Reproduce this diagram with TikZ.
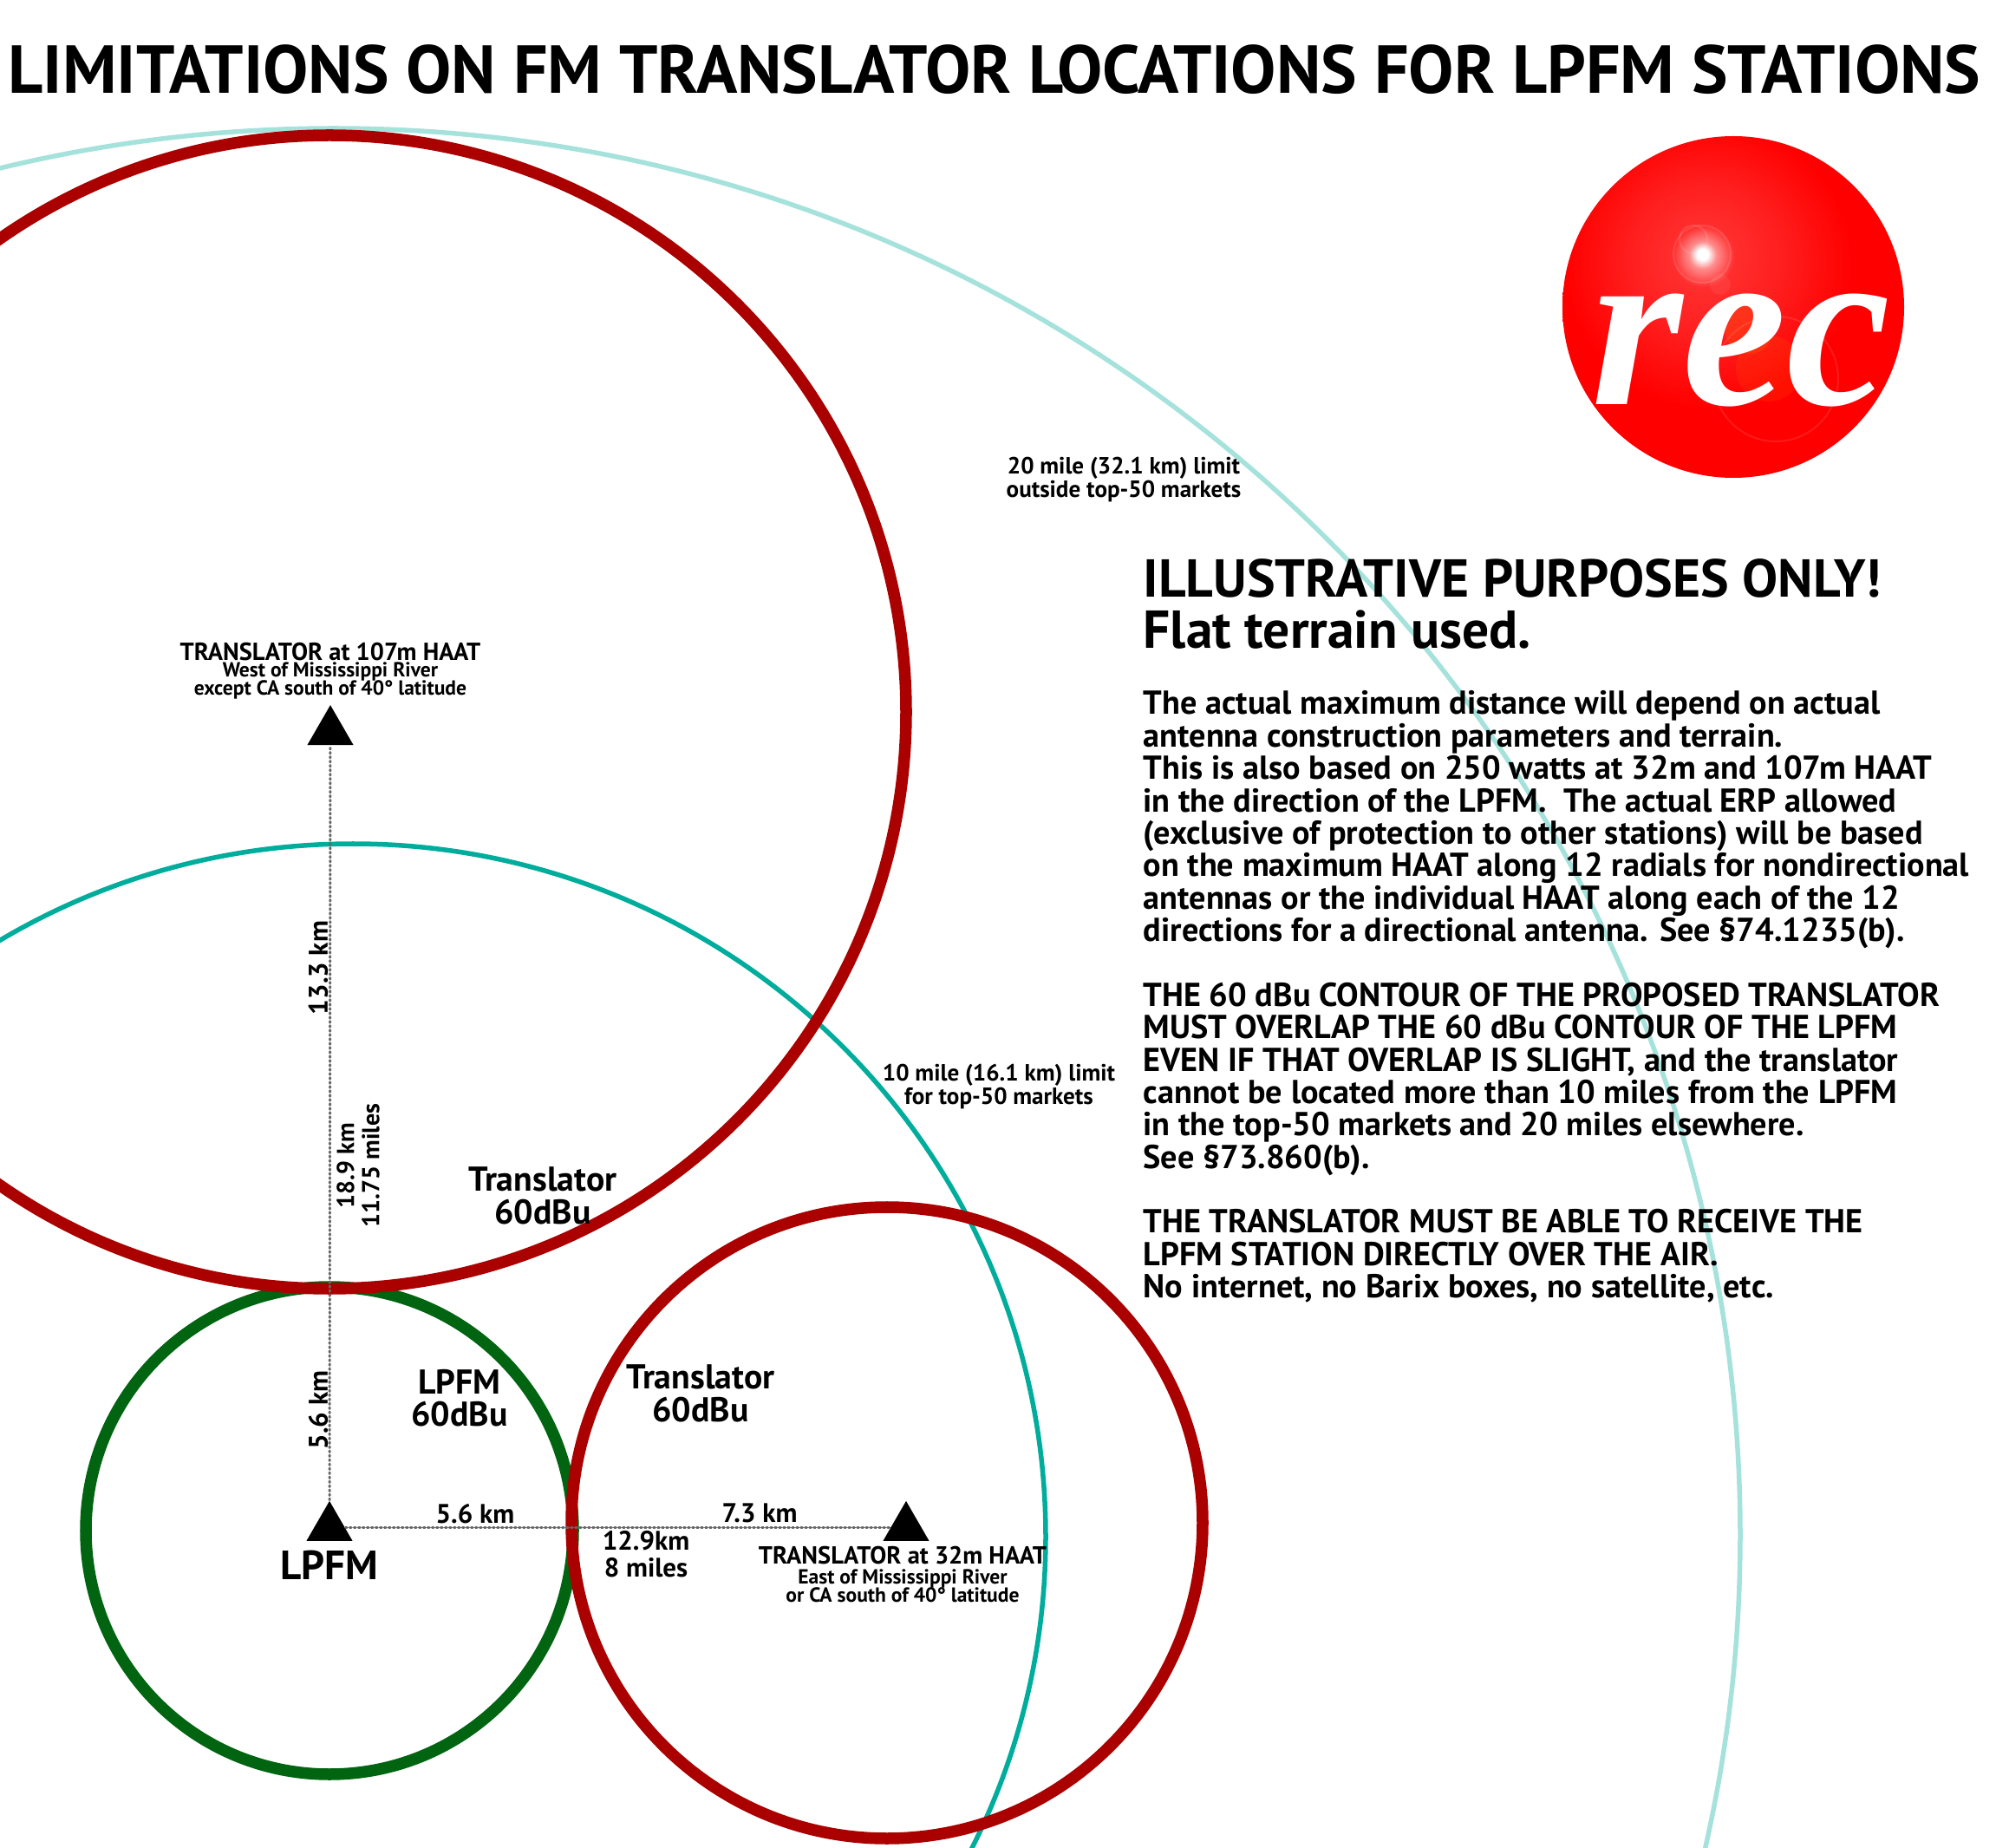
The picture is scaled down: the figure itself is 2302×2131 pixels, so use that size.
\documentclass[tikz,border=0pt]{standalone}
\usepackage{fontspec}
\setmainfont{PT Sans}
\newfontfamily\recfont{Liberation Serif}
\usetikzlibrary{shapes, positioning}

\definecolor{contourred}{HTML}{AA0000}
\definecolor{contourgreen}{HTML}{006411}
\definecolor{limitteal}{HTML}{00AD9C}
\definecolor{limitpale}{HTML}{A6E2DC}
\pgfdeclareradialshading{recglow}{\pgfpoint{-4.55bp}{7.75bp}}{%
    color(0bp)=(white); color(0.8bp)=(white); color(2bp)=(red!45!white);
    color(4.5bp)=(red!82!white); color(11bp)=(red!88!white); color(21bp)=(red); color(100bp)=(red)}

\tikzset{
    contour/.style={line width=0.135cm},
    limit/.style={line width=0.055cm},
    dotlink/.style={line width=0.035cm, black!60, line cap=round, dash pattern=on 0.015cm off 0.035cm},
    mast/.style={fill=black, regular polygon, regular polygon sides=3, minimum size=0.612cm, inner sep=0pt},
    bigtext/.style={font=\bfseries\fontsize{11.3}{10.6}\selectfont, align=center, inner sep=0pt},
    nametext/.style={font=\bfseries\fontsize{8.1}{8.1}\selectfont, align=center, inner sep=0pt},
    disttext/.style={font=\bfseries\fontsize{8.8}{8.8}\selectfont, align=center, inner sep=0pt},
    limittext/.style={font=\bfseries\fontsize{7.7}{7.5}\selectfont, align=center, inner sep=0pt},
    smalltext/.style={font=\bfseries\fontsize{6.7}{5.6}\selectfont, align=center, inner sep=0pt}
}

\begin{document}
\begin{tikzpicture}[x=0.01cm, y=-0.01cm]
    \useasboundingbox (0, 0) rectangle (2302, 2131);

    % Limit circles
    \draw[limit, limitpale] (385, 1770) circle (1622);
    \draw[limit, limitteal] (407, 1772) circle (799);

    % 60 dBu contours
    \draw[contour, contourgreen] (380, 1765) circle (281);
    \draw[contour, contourred] (380, 821) circle (665);
    \draw[contour, contourred] (1023, 1756) circle (364);

    % Title
    \node[font=\bfseries\fontsize{22.25}{22.25}\selectfont, inner sep=0pt] (title) at (1147, 80) {LIMITATIONS ON FM TRANSLATOR LOCATIONS FOR LPFM STATIONS};

    % REC logo
    \shade[shading=recglow] (1999, 354) circle (197);
    \draw[white, opacity=0.12, line width=0.02cm] (1963, 293) circle (33);
    \draw[white, opacity=0.12, line width=0.02cm] (1953, 276) circle (16);
    \fill[white, opacity=0.06] (1984, 328) circle (12);
    \fill[orange, opacity=0.18] (2017, 380) circle (28);
    \fill[orange, opacity=0.12] (2040, 425) circle (38);
    \draw[white, opacity=0.1, line width=0.02cm] (2048, 437) circle (72);
    \node[white, font=\recfont\bfseries\itshape\fontsize{77}{77}\selectfont, inner sep=0pt, anchor=base] (rec) at (2008, 467) {rec};

    % Masts
    \node[mast] (lpfm) at (380, 1761.5) {};
    \node[mast] (east) at (1045, 1761.5) {};
    \node[mast] (west) at (381, 843.7) {};
    \draw[dotlink] (lpfm) -- (east);
    \draw[dotlink, line width=0.03cm] (lpfm) -- (west);

    % Mast labels
    \node[font=\bfseries\fontsize{13.4}{13.4}\selectfont, inner sep=0pt] (lpfmlabel) at (380, 1805) {LPFM};
    \node[nametext] (westname) at (381, 752) {TRANSLATOR at 107m HAAT};
    \node[smalltext] (westnote) at (381, 785) {West of Mississippi River\\[-1.2pt]except CA south of 40° latitude};
    \node[nametext] (eastname) at (1041, 1794) {TRANSLATOR at 32m HAAT};
    \node[smalltext] (eastnote) at (1041, 1829) {East of Mississippi River\\[-1.2pt]or CA south of 40° latitude};

    % Contour labels
    \node[bigtext] (toplabel) at (626, 1379) {Translator\\60dBu};
    \node[bigtext] (lpfmcontour) at (530, 1612) {LPFM\\60dBu};
    \node[bigtext] (rightlabel) at (808, 1607) {Translator\\60dBu};

    % Distances
    \node[disttext] (leg1) at (548, 1746) {5.6 km};
    \node[disttext] (leg2) at (876, 1745) {7.3 km};
    \node[disttext] (legsum) at (745, 1792) {12.9km\\8 miles};
    \node[disttext, rotate=90] (up1) at (367, 1626) {5.6 km};
    \node[disttext, rotate=90] (up2) at (367, 1116) {13.3 km};
    \node[disttext, font=\bfseries\fontsize{8}{8.3}\selectfont, rotate=90] (upsum) at (413, 1344) {18.9 km\\11.75 miles};

    % Limit labels
    \node[limittext] (far) at (1296, 553) {20 mile (32.1 km) limit\\outside top-50 markets};
    \node[limittext] (near) at (1152, 1253) {10 mile (16.1 km) limit\\for top-50 markets};

    % Notes
    \node[font=\bfseries\fontsize{17.5}{16.7}\selectfont, align=left, anchor=north west, inner sep=0pt] (warning) at (1318, 644) {ILLUSTRATIVE PURPOSES ONLY!\\Flat terrain used.};
    \node[font=\bfseries\fontsize{10.87}{10.63}\selectfont, align=left, anchor=north west, inner sep=0pt] (notes) at (1318, 796) {The actual maximum distance will depend on actual\\
antenna construction parameters and terrain.\\
This is also based on 250 watts at 32m and 107m HAAT\\
in the direction of the LPFM.\ \ The actual ERP allowed\\
(exclusive of protection to other stations) will be based\\
on the maximum HAAT along 12 radials for nondirectional\\
antennas or the individual HAAT along each of the 12\\
directions for a directional antenna. See §74.1235(b).\\
\mbox{}\\
THE 60 dBu CONTOUR OF THE PROPOSED TRANSLATOR\\
MUST OVERLAP THE 60 dBu CONTOUR OF THE LPFM\\
EVEN IF THAT OVERLAP IS SLIGHT, and the translator\\
cannot be located more than 10 miles from the LPFM\\
in the top-50 markets and 20 miles elsewhere.\\
See §73.860(b).\\
\mbox{}\\
THE TRANSLATOR MUST BE ABLE TO RECEIVE THE\\
LPFM STATION DIRECTLY OVER THE AIR.\\
No internet, no Barix boxes, no satellite, etc.};
\end{tikzpicture}
\end{document}
